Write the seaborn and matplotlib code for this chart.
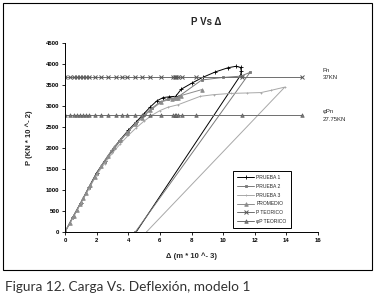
import matplotlib
matplotlib.use('Agg')
import matplotlib.pyplot as plt
import matplotlib.patches as patches
import seaborn as sns
import pandas as pd

# PRUEBA 1 (loading, loop at peak, unloading)
x_p1 = [0, 0.5, 1.0, 1.5, 2.0, 2.5, 3.0, 3.5, 4.0, 4.5, 5.0, 5.4, 5.8, 6.2, 6.6, 7.0,
        7.35, 8.0, 8.7, 9.5, 10.3, 10.8, 11.1, 11.15, 11.1, 4.5]
p_p1 = [0, 360, 700, 1060, 1410, 1690, 1960, 2200, 2420, 2620, 2820, 2980, 3120, 3200, 3220, 3230,
        3400, 3540, 3680, 3810, 3910, 3945, 3920, 3830, 3730, 0]

# PRUEBA 2
x_p2 = [0, 0.5, 1.0, 1.5, 2.0, 2.5, 3.0, 3.5, 4.0, 4.5, 5.0, 5.5, 6.0, 6.5, 7.0, 7.2,
        8.65, 10.0, 11.1, 11.7, 4.45]
p_p2 = [0, 350, 690, 1040, 1390, 1670, 1930, 2170, 2390, 2590, 2780, 2950, 3090, 3170, 3190, 3230,
        3620, 3680, 3710, 3800, 0]

# PRUEBA 3
x_p3 = [0, 0.5, 1.0, 1.5, 2.0, 2.5, 3.0, 3.5, 4.0, 4.5, 5.0, 5.5, 6.0, 6.5, 7.15,
        8.55, 9.4, 10.5, 11.5, 12.4, 13.0, 13.9, 5.15]
p_p3 = [0, 340, 680, 1020, 1360, 1630, 1880, 2100, 2300, 2480, 2640, 2780, 2890, 2970, 3030,
        3230, 3270, 3300, 3310, 3320, 3370, 3450, 0]

# PROMEDIO
x_prom = [0, 0.3, 0.55, 0.75, 0.95, 1.15, 1.35, 1.6, 1.9, 2.3, 2.7, 3.1, 3.5, 3.9, 4.4, 4.85,
          5.4, 6.1, 6.75, 6.9, 7.0, 7.15, 7.35, 8.65]
p_prom = [0, 210, 380, 520, 660, 800, 940, 1110, 1320, 1580, 1810, 2020, 2190, 2360, 2560, 2720,
          2900, 3100, 3170, 3180, 3190, 3200, 3250, 3390]

# theoretical values
x_teo = [0, 0.3, 0.55, 0.75, 0.95, 1.15, 1.35, 1.5, 1.9, 2.3, 2.7, 3.2, 3.6, 3.9, 4.4, 4.85,
         5.4, 6.1, 6.85, 6.95, 7.05, 7.15, 7.4, 8.3, 11.2, 15.0]
pn = 3700
phi_pn = 2775

x_ticks = list(range(0, 17, 2))
y_ticks = list(range(0, 4501, 500))

sns.set_style('white')
plt.rcParams['font.family'] = ['Liberation Sans', 'DejaVu Sans']

fig = plt.figure(figsize=(3.77, 3.03), dpi=100)
ax = fig.add_axes([65 / 377, 1 - 232 / 303, 253 / 377, 189 / 303])

series = [
    ('PRUEBA 1', x_p1, p_p1, '#000000', '+', 2.2),
    ('PRUEBA 2', x_p2, p_p2, '#7a7a7a', 's', 1.8),
    ('PRUEBA 3', x_p3, p_p3, '#a8a8a8', '+', 2.0),
    ('PROMEDIO', x_prom, p_prom, '#8c8c8c', '^', 2.6),
]
for name, xs, ps, col, mk, ms in series:
    df = pd.DataFrame({'x': xs, 'P': ps})
    sns.lineplot(data=df, x='x', y='P', sort=False, estimator=None, color=col, lw=0.7,
                 marker=mk, markersize=ms, markeredgewidth=0.6, markeredgecolor=col,
                 label=name, ax=ax)

teo = pd.DataFrame({'x': x_teo, 'Pn': [pn] * len(x_teo), 'phiPn': [phi_pn] * len(x_teo)})
sns.lineplot(data=teo, x='x', y='Pn', sort=False, estimator=None, color='#6e6e6e', lw=0.7,
             marker='x', markersize=2.6, markeredgewidth=0.7, markeredgecolor='#555555',
             label='P TEORICO', ax=ax)
sns.lineplot(data=teo, x='x', y='phiPn', sort=False, estimator=None, color='#6e6e6e', lw=0.7,
             marker='^', markersize=2.6, markeredgewidth=0.4, markeredgecolor='#555555',
             markerfacecolor='#777777', label='\u03c6P TEORICO', ax=ax)

ax.set_xlim(0, 16)
ax.set_ylim(0, 4500)
ax.set_xticks(x_ticks)
ax.set_yticks(y_ticks)
ax.tick_params(axis='both', labelsize=4.3, length=2, width=0.6, pad=2, direction='out',
               left=True, bottom=True, colors='black')
for lab in ax.get_xticklabels() + ax.get_yticklabels():
    lab.set_fontweight('bold')
for s in ['top', 'right']:
    ax.spines[s].set_visible(False)
for s in ['left', 'bottom']:
    ax.spines[s].set_color('black')
    ax.spines[s].set_linewidth(0.7)

ax.set_xlabel('\u0394 (m * 10 ^- 3)', fontsize=5.5, fontweight='bold', labelpad=7)
ax.set_ylabel('P (KN * 10 ^- 2)', fontsize=5.5, fontweight='bold', labelpad=9)
fig.text(206 / 377, 1 - 22 / 303, 'P Vs \u0394', fontsize=7, fontweight='bold',
         ha='center', va='center')

ax.text(16.3, 3840, 'Pn', fontsize=4.3, va='center', ha='left', clip_on=False)
ax.text(16.3, 3690, '37KN', fontsize=4.3, va='center', ha='left', clip_on=False)
ax.text(16.3, 2860, '\u03c6Pn', fontsize=4.3, va='center', ha='left', clip_on=False)
ax.text(16.3, 2680, '27.75KN', fontsize=4.3, va='center', ha='left', clip_on=False)

leg = ax.legend(loc='upper left', bbox_to_anchor=(0.664, 0.325), fontsize=3.6,
                frameon=True, fancybox=False, edgecolor='black', framealpha=1,
                handlelength=3.4, borderpad=0.9, labelspacing=0.75, handletextpad=0.4,
                borderaxespad=0)
leg.get_frame().set_linewidth(0.7)

# border around chart and caption
fig.patches.append(patches.Rectangle((3 / 377, 1 - 270 / 303), 369 / 377, 267 / 303,
                                     transform=fig.transFigure, fill=False,
                                     edgecolor='black', lw=0.8))
fig.text(5 / 377, 1 - 287 / 303, 'Figura 12. Carga Vs. Deflexi\u00f3n, modelo 1',
         fontsize=9.8, color='#333333', ha='left', va='center', family=['Lato', 'DejaVu Sans'])

fig.savefig('out.png', dpi=100)
